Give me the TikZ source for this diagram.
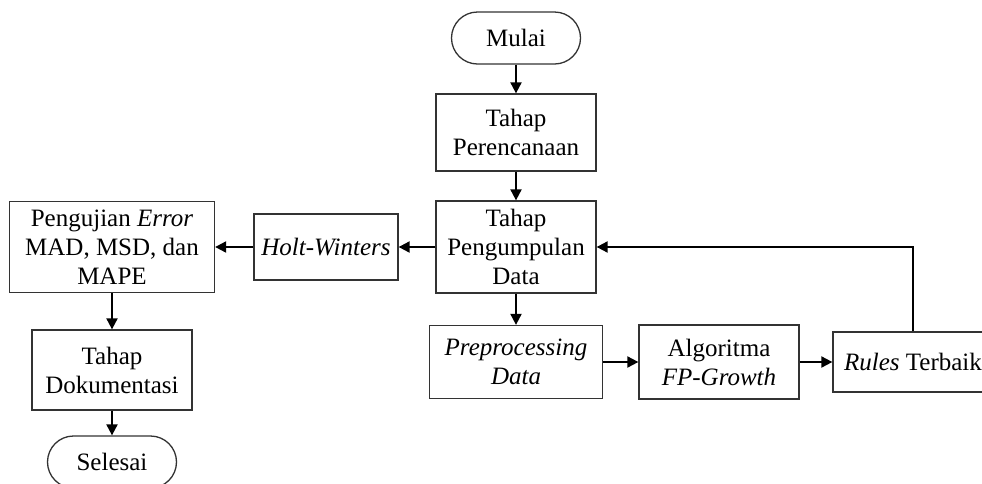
\documentclass[tikz,border=0pt]{standalone}
\usepackage{fontspec}
\setmainfont{Liberation Serif}
\usetikzlibrary{arrows.meta}
\begin{document}
\begin{tikzpicture}[x=1pt,y=-1pt,
  font=\fontsize{25}{29}\selectfont,
  box/.style={draw=black!80,line width=1.3pt,align=center,inner sep=0pt},
  term/.style={box,rounded corners=26pt,minimum height=52pt},
  arr/.style={line width=2pt,-{Triangle[length=11pt,width=11pt]}}]
  \useasboundingbox (0,0) rectangle (982,483);
  % alur utama
  \node[term,minimum width=129pt] (mulai) at (516,38) {Mulai};
  \node[box,minimum width=160pt,minimum height=77pt] (rencana) at (516,132.5) {Tahap\\Perencanaan};
  \node[box,minimum width=160pt,minimum height=92pt] (kumpul) at (516,247) {Tahap\\Pengumpulan\\Data};
  % cabang peramalan
  \node[box,minimum width=144pt,minimum height=66pt] (holt) at (326,247) {\textit{Holt-Winters}};
  \node[box,minimum width=205pt,minimum height=91pt] (uji) at (112,247) {Pengujian \textit{Error}\\MAD, MSD, dan\\MAPE};
  \node[box,minimum width=160pt,minimum height=80pt] (dok) at (112,370) {Tahap\\Dokumentasi};
  \node[term,minimum width=129pt] (selesai) at (112,462) {Selesai};
  % cabang asosiasi
  \node[box,minimum width=173pt,minimum height=73pt] (prep) at (516,362) {\textit{Preprocessing}\\\textit{Data}};
  \node[box,minimum width=160pt,minimum height=74pt] (algo) at (719,362) {Algoritma\\\textit{FP-Growth}};
  \node[box,minimum width=160pt,minimum height=60pt] (rules) at (913,362) {\textit{Rules} Terbaik};
  \draw[arr] (mulai) -- (rencana);
  \draw[arr] (rencana) -- (kumpul);
  \draw[arr] (kumpul) -- (holt);
  \draw[arr] (holt) -- (uji);
  \draw[arr] (uji) -- (dok);
  \draw[arr] (dok) -- (selesai);
  \draw[arr] (kumpul) -- (prep);
  \draw[arr] (prep) -- (algo);
  \draw[arr] (algo) -- (rules);
  \draw[arr] (rules.north) |- (kumpul.east);
\end{tikzpicture}
\end{document}
